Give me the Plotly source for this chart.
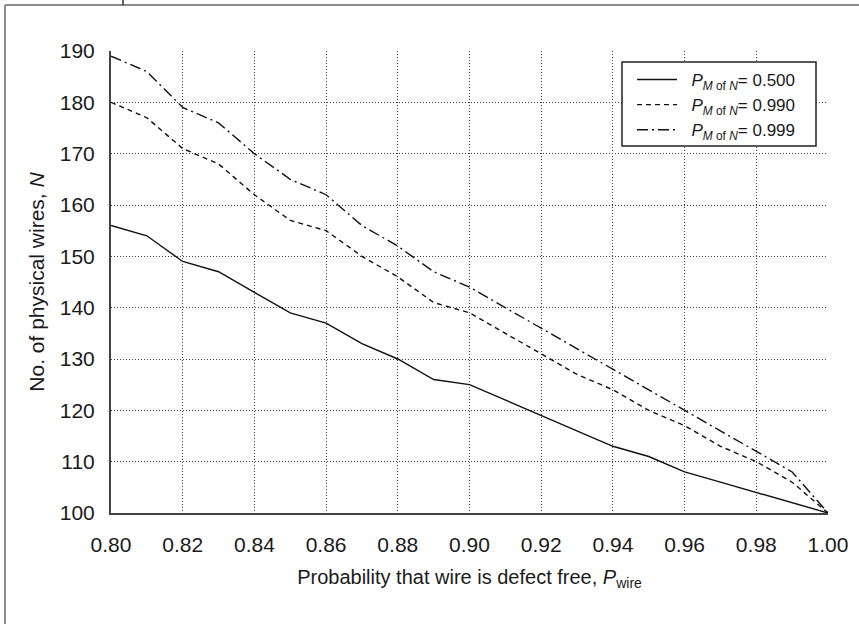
import plotly.graph_objects as go

p_wire = [0.80, 0.81, 0.82, 0.83, 0.84, 0.85, 0.86, 0.87, 0.88, 0.89, 0.90,
          0.91, 0.92, 0.93, 0.94, 0.95, 0.96, 0.97, 0.98, 0.99, 1.00]
n_500 = [156, 154, 149, 147, 143, 139, 137, 133, 130, 126, 125,
         122, 119, 116, 113, 111, 108, 106, 104, 102, 100]
n_990 = [180, 177, 171, 168, 162, 157, 155, 150, 146, 141, 139,
         135, 131, 127, 124, 120, 117, 113, 110, 106, 100]
n_999 = [189, 186, 179, 176, 170, 165, 162, 156, 152, 147, 144,
         140, 136, 132, 128, 124, 120, 116, 112, 108, 100]
series_names = ["0.500", "0.990", "0.999"]
x_ticks = [0.80, 0.82, 0.84, 0.86, 0.88, 0.90, 0.92, 0.94, 0.96, 0.98, 1.00]
y_ticks = [100, 110, 120, 130, 140, 150, 160, 170, 180, 190]

FONT = "Liberation Sans, Arial, sans-serif"
dashes = ["solid", "5px,4px", "11px,4px,2px,4px"]

fig = go.Figure()
for vals, name, dash in zip([n_500, n_990, n_999], series_names, dashes):
    fig.add_trace(go.Scatter(
        x=p_wire, y=vals, mode="lines",
        name=f"&nbsp;&nbsp;<i>P</i><sub><i>M</i> of <i>N</i></sub>= {name}",
        line=dict(color="#111111", width=1.4, dash=dash),
    ))

# plot area in pixels: x 111..828, y 51..513
L, R, T, B = 111, 828, 51, 513
W, H = R - L, B - T
def px(xp):
    return (xp - L) / W
def py(yp):
    return (B - yp) / H

frame_color = "#8c8c8c"
shapes = [
    dict(type="line", xref="paper", yref="paper", x0=px(5), x1=px(870), y0=py(5), y1=py(5),
         line=dict(color=frame_color, width=2)),
    dict(type="line", xref="paper", yref="paper", x0=px(5), x1=px(5), y0=py(5), y1=py(640),
         line=dict(color=frame_color, width=2)),
    dict(type="line", xref="paper", yref="paper", x0=px(123), x1=px(123), y0=py(-5), y1=py(5),
         line=dict(color="#333333", width=1.5)),
    # legend box
    dict(type="rect", xref="paper", yref="paper", x0=px(622), x1=px(816), y0=py(62), y1=py(146),
         line=dict(color="#222222", width=1.5), fillcolor="white", layer="above"),
]

fig.update_layout(
    width=859, height=624,
    margin=dict(l=L, r=859 - R, t=T, b=624 - B),
    paper_bgcolor="white", plot_bgcolor="white",
    font=dict(family=FONT, color="#1a1a1a", size=21),
    showlegend=True,
    legend=dict(
        x=px(632), y=py(62), xanchor="left", yanchor="top",
        bgcolor="rgba(0,0,0,0)", borderwidth=0,
        font=dict(family=FONT, size=17, color="#1a1a1a"),
        tracegroupgap=0, itemwidth=40,
    ),
    shapes=shapes,
)
fig.update_xaxes(
    range=[0.80, 1.00], tickvals=x_ticks,
    ticktext=[f"{v:.2f}" for v in x_ticks],
    showgrid=True, gridcolor="#444444", griddash="1px,2px", gridwidth=1,
    showline=True, linecolor="#444444", linewidth=2,
    ticks="", ticklabelstandoff=12, zeroline=False,
    title=dict(text="Probability that wire is defect free, <i>P</i><sub>wire</sub>",
               font=dict(size=20), standoff=15),
)
fig.update_yaxes(
    range=[100, 190], tickvals=y_ticks,
    showgrid=True, gridcolor="#444444", griddash="1px,2px", gridwidth=1,
    showline=True, linecolor="#444444", linewidth=2,
    ticks="", ticklabelstandoff=10, zeroline=False,
    title=dict(text="No. of physical wires, <i>N</i>", font=dict(size=21), standoff=9),
)

fig.write_html("out.html")
